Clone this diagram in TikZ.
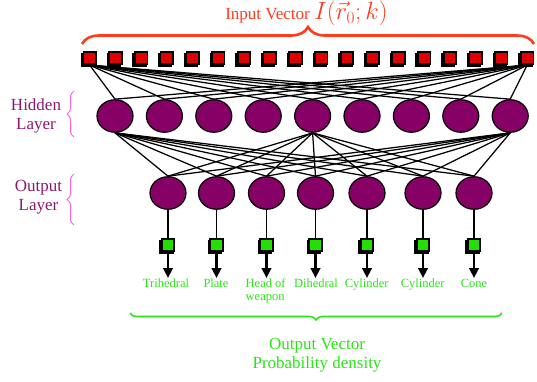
\documentclass[tikz,border=0pt]{standalone}
\usepackage{fontspec}
\setmainfont{Liberation Serif}
\usetikzlibrary{decorations.pathreplacing,arrows.meta,shapes.geometric}
\definecolor{inred}{RGB}{225,0,0}
\definecolor{neur}{RGB}{135,0,102}
\definecolor{sqgreen}{RGB}{34,225,0}
\definecolor{lblpurple}{RGB}{140,25,110}
\definecolor{bracepink}{RGB}{255,100,220}
\definecolor{bracered}{RGB}{255,60,30}
\definecolor{txtgreen}{RGB}{40,230,20}
\begin{document}
\begin{tikzpicture}[x=1pt,y=-1pt,
  insq/.style={draw=black, line width=1.7pt, fill=inred, minimum size=12.5pt, inner sep=0pt},
  gsq/.style={draw=black, line width=1.7pt, fill=sqgreen, minimum size=12.5pt, inner sep=0pt},
  shad/.style={fill=black},
  neuron/.style={ellipse, draw=black, line width=1.2pt, fill=neur, minimum width=36pt, minimum height=32.5pt, inner sep=0pt},
  link/.style={line width=1.25pt, black},
  outarrow/.style={line width=2.5pt, -{Triangle[length=10pt,width=9.5pt]}},
  layerlbl/.style={text=lblpurple, align=center, font=\fontsize{17}{19}\selectfont},
  pinkbrace/.style={draw=bracepink, line width=1pt, decorate, decoration={brace, amplitude=7pt}},
  catlbl/.style={text=txtgreen, font=\fontsize{12.5}{13}\selectfont, anchor=base, inner sep=0pt}
]
\useasboundingbox (0,0) rectangle (537,381);
% input squares with small shadow
\foreach \i in {0,...,17} {
  \fill[shad] ({89.7+\i*25.73-1.6-7.1},{58-7.1+1.6}) rectangle ++(14.2,14.2);
  \node[insq] (in\i) at ({89.7+\i*25.73},58) {};
}
% hidden layer
\foreach \i in {0,...,8} {
  \node[neuron] (h\i) at ({115+\i*49.4},116) {};
}
% output layer
\foreach \x [count=\k] in {168,216.5,266.5,315.5,367,423,474} {
  \node[neuron] (o\k) at (\x,193) {};
  \fill[shad] ({\x-1.6-7.1},{245-7.1+1.6}) rectangle ++(14.2,14.2);
  \node[gsq] (g\k) at (\x,245) {};
  \coordinate (a\k) at (\x,278);
  \draw[line width=1.5pt] (o\k.south) -- (g\k.north);
  \draw[outarrow] (g\k.south) -- (a\k);
}
% input -> hidden
\foreach \i in {0,...,8} {
  \draw[link] (in0.south) -- (h\i.north);
  \draw[link] (in17.south) -- (h\i.north);
}
% hidden -> output
\foreach \k in {1,...,7} {
  \draw[link] (h0.south) -- (o\k.north);
  \draw[link] (h4.south) -- (o\k.north);
  \draw[link] (h8.south) -- (o\k.north);
}
% top brace and title
\coordinate (tbl) at (82,44);
\coordinate (tbr) at (534,44);
\draw[bracered, line width=2.6pt, decorate, decoration={brace, amplitude=17pt}] (tbl) -- (tbr);
\node[text=bracered, anchor=base] (title) at (306.5,19.5)
  {\fontsize{17}{20}\selectfont Input Vector \fontsize{23}{26}\selectfont$I(\vec{r}_0;k)$};
% layer labels
\node[layerlbl] (hl) at (36,116) {Hidden\\Layer};
\coordinate (hb1) at (74,137);
\coordinate (hb2) at (74,91);
\draw[pinkbrace] (hb1) -- (hb2);
\node[layerlbl] (ol) at (38.5,197) {Output\\Layer};
\coordinate (ob1) at (74,225);
\coordinate (ob2) at (74,174);
\draw[pinkbrace] (ob1) -- (ob2);
% category labels
\node[catlbl] (c1) at (166,287) {Trihedral};
\node[catlbl] (c2) at (216,287) {Plate};
\node[catlbl, anchor=base west] (c3) at (245.5,287) {Head of};
\node[catlbl, anchor=base west] (c3b) at (245.5,300) {weapon};
\node[catlbl] (c4) at (316,287) {Dihedral};
\node[catlbl] (c5) at (366.7,287) {Cylinder};
\node[catlbl] (c6) at (422.7,287) {Cylinder};
\node[catlbl] (c7) at (474,287) {Cone};
% bottom brace and caption
\coordinate (bbr) at (502,313);
\coordinate (bbl) at (130,313);
\draw[draw=txtgreen, line width=1.6pt, decorate, decoration={brace, amplitude=7pt}] (bbr) -- (bbl);
\node[text=txtgreen, align=center, font=\fontsize{17}{18.5}\selectfont] (cap) at (317,355) {Output Vector\\Probability density};
\end{tikzpicture}
\end{document}
